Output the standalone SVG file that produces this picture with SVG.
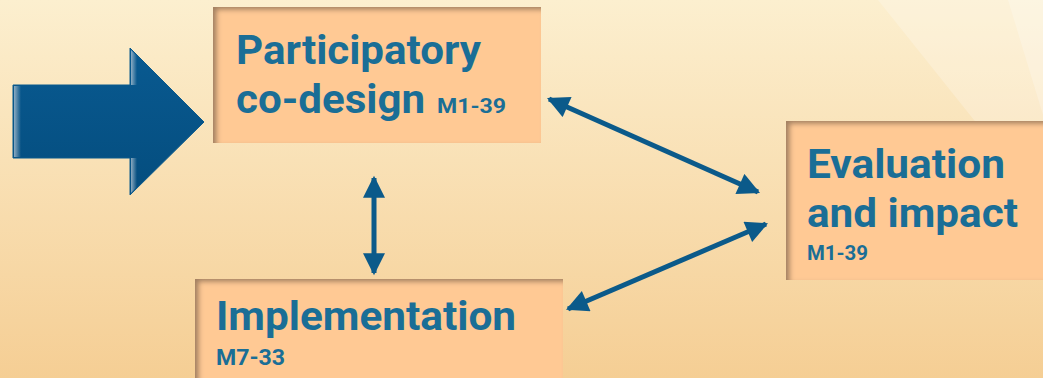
<svg xmlns="http://www.w3.org/2000/svg" width="1043" height="378" viewBox="0 0 1043 378">
  <defs>
    <linearGradient id="bg" x1="0" y1="0" x2="0" y2="1">
      <stop offset="0" stop-color="#FCEFCF"/>
      <stop offset="1" stop-color="#F5CE94"/>
    </linearGradient>
    <linearGradient id="arrowFill" x1="0" y1="0" x2="0" y2="1">
      <stop offset="0" stop-color="#095A91"/>
      <stop offset="1" stop-color="#044D7E"/>
    </linearGradient>
    <!-- soft light strip along a vertical edge of the arrow -->
    <linearGradient id="edgeLight" x1="0" y1="0" x2="1" y2="0">
      <stop offset="0" stop-color="#B8C8D4" stop-opacity="0.75"/>
      <stop offset="1" stop-color="#B8C8D4" stop-opacity="0"/>
    </linearGradient>
    <!-- inner shadow along the top and left edges of each box -->
    <filter id="inset" x="-10%" y="-10%" width="120%" height="120%">
      <feFlood flood-color="#7E6450" flood-opacity="0.8"/>
      <feComposite in2="SourceAlpha" operator="out"/>
      <feGaussianBlur stdDeviation="2.5"/>
      <feOffset dx="4" dy="3" result="shadow"/>
      <feComposite in="shadow" in2="SourceAlpha" operator="in" result="inner"/>
      <feMerge>
        <feMergeNode in="SourceGraphic"/>
        <feMergeNode in="inner"/>
      </feMerge>
    </filter>
    <marker id="head" viewBox="0 0 10 10" refX="9" refY="5" markerWidth="4.6" markerHeight="4.4" orient="auto-start-reverse" markerUnits="strokeWidth">
      <path d="M0,0 L10,5 L0,10 Z" fill="#0B5A8A"/>
    </marker>
  </defs>
  <style>
    .box { fill: #FFC994; filter: url(#inset); }
    .title { font-family: Roboto, "Liberation Sans", sans-serif; font-weight: 700; fill: #1A6E96; font-size: 40px; }
    .code { font-family: Roboto, "Liberation Sans", sans-serif; font-weight: 700; fill: #1A6E96; }
    .link { stroke: #0B5A8A; stroke-width: 5; fill: none; marker-start: url(#head); marker-end: url(#head); }
  </style>

  <!-- backdrop -->
  <rect width="1043" height="378" fill="url(#bg)"/>
  <polygon points="878,0 1043,0 1043,240 990,140" fill="#FFFFFF" opacity="0.22"/>
  <polygon points="1008,0 1043,0 1043,115" fill="#FFFFFF" opacity="0.22"/>

  <!-- entry arrow -->
  <g id="entry-arrow">
    <polygon points="13,85 130,85 130,48 204,122 130,195 130,158 13,158" fill="url(#arrowFill)" stroke="#0A5A8C" stroke-width="1"/>
    <rect x="14" y="86" width="7" height="71" fill="url(#edgeLight)"/>
    <polygon points="131,50 137,56 137,85 131,85" fill="url(#edgeLight)"/>
    <polygon points="131,158 137,158 137,187 131,193" fill="url(#edgeLight)"/>
  </g>

  <g id="node-codesign">
    <rect class="box" x="213" y="7" width="328" height="136"/>
    <text class="title" x="236" y="64" textLength="245" lengthAdjust="spacingAndGlyphs">Participatory</text>
    <text class="title" x="236" y="113" textLength="189" lengthAdjust="spacingAndGlyphs">co-design</text>
    <text class="code" x="437" y="113" font-size="21" textLength="69" lengthAdjust="spacingAndGlyphs">M1-39</text>
  </g>

  <g id="node-implementation">
    <rect class="box" x="195" y="279" width="368" height="110"/>
    <text class="title" x="216" y="330" textLength="300" lengthAdjust="spacingAndGlyphs">Implementation</text>
    <text class="code" x="216" y="365" font-size="22" textLength="69" lengthAdjust="spacingAndGlyphs">M7-33</text>
  </g>

  <g id="node-evaluation">
    <rect class="box" x="786" y="121" width="260" height="159"/>
    <text class="title" x="807" y="178" textLength="198" lengthAdjust="spacingAndGlyphs">Evaluation</text>
    <text class="title" x="807" y="227" textLength="211" lengthAdjust="spacingAndGlyphs">and impact</text>
    <text class="code" x="807" y="260" font-size="20" textLength="61" lengthAdjust="spacingAndGlyphs">M1-39</text>
  </g>

  <g id="connectors">
    <line class="link" x1="374" y1="178" x2="374" y2="273"/>
    <line class="link" x1="549" y1="99" x2="758" y2="192"/>
    <line class="link" x1="766" y1="224" x2="568" y2="309"/>
  </g>
</svg>
